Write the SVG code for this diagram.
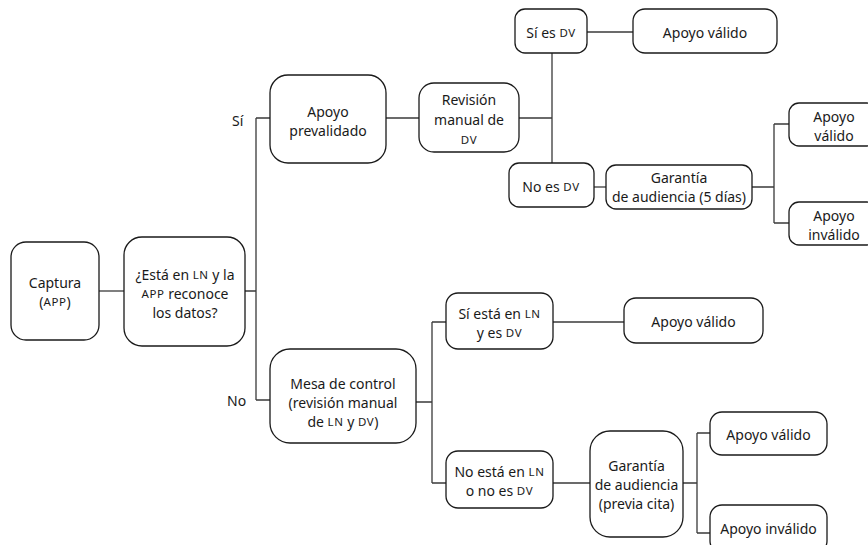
<svg xmlns="http://www.w3.org/2000/svg" width="868" height="545" viewBox="0 0 868 545">
<style>
.box{fill:#fff;stroke:#1a1a1a;stroke-width:1.3}
.ln{fill:none;stroke:#3a3a3a;stroke-width:1.3}
text{font-family:"Noto Sans","Open Sans","Liberation Sans",sans-serif;font-size:14px;fill:#1a1a1a;text-anchor:middle;dominant-baseline:central}
.sc{font-size:11.5px;letter-spacing:0.6px}
.lbl{text-anchor:start}
</style>
<rect width="868" height="545" fill="#fff"/>
<g id="connectors">
<path class="ln" d="M99,291 H124"/>
<path class="ln" d="M245,291 H256 M256,118 V400 M256,118 H270 M256,400 H270"/>
<path class="ln" d="M386,118 H419"/>
<path class="ln" d="M519,118 H552 M552,53 V163"/>
<path class="ln" d="M587,32 H633"/>
<path class="ln" d="M594,187 H606"/>
<path class="ln" d="M752,187 H774 M774,124 V223 M774,124 H789 M774,223 H789"/>
<path class="ln" d="M416,402 H432 M432,322 V483 M432,322 H446 M432,483 H446"/>
<path class="ln" d="M553,322 H624"/>
<path class="ln" d="M553,483 H590"/>
<path class="ln" d="M683,483 H697 M697,433 V533 M697,433 H710 M697,533 H710"/>
</g>
<g id="label-si"><text class="lbl" x="232" y="120">Sí</text></g>
<g id="label-no"><text class="lbl" x="227" y="400">No</text></g>
<g id="captura">
<rect class="box" x="11" y="242" width="88" height="98" rx="15"/>
<text x="55" y="282">Captura</text>
<text x="55" y="301">(<tspan class="sc">APP</tspan>)</text>
</g>
<g id="esta-en-ln">
<rect class="box" x="124" y="237" width="121" height="109" rx="18"/>
<text x="185" y="274">¿Está en <tspan class="sc">LN</tspan> y la</text>
<text x="185" y="293"><tspan class="sc">APP</tspan> reconoce</text>
<text x="185" y="312">los datos?</text>
</g>
<g id="apoyo-prevalidado">
<rect class="box" x="270" y="75" width="116" height="88" rx="18"/>
<text x="328" y="111">Apoyo</text>
<text x="328" y="130">prevalidado</text>
</g>
<g id="revision-manual">
<rect class="box" x="419" y="83" width="100" height="69" rx="15"/>
<text x="469" y="99">Revisión</text>
<text x="469" y="119">manual de</text>
<text x="469" y="139"><tspan class="sc">DV</tspan></text>
</g>
<g id="si-es-dv">
<rect class="box" x="515" y="9" width="72" height="44" rx="10"/>
<text x="551" y="32">Sí es <tspan class="sc">DV</tspan></text>
</g>
<g id="apoyo-valido-1">
<rect class="box" x="633" y="9" width="144" height="44" rx="12"/>
<text x="705" y="32">Apoyo válido</text>
</g>
<g id="no-es-dv">
<rect class="box" x="509" y="163" width="85" height="44" rx="10"/>
<text x="551" y="186">No es <tspan class="sc">DV</tspan></text>
</g>
<g id="garantia-5-dias">
<rect class="box" x="606" y="165" width="146" height="44" rx="10"/>
<text x="679" y="177">Garantía</text>
<text x="679" y="196">de audiencia (5 días)</text>
</g>
<g id="apoyo-valido-2">
<rect class="box" x="789" y="103" width="88" height="43" rx="10"/>
<text x="834" y="116">Apoyo</text>
<text x="834" y="135">válido</text>
</g>
<g id="apoyo-invalido-1">
<rect class="box" x="789" y="202" width="88" height="43" rx="10"/>
<text x="834" y="215">Apoyo</text>
<text x="834" y="234">inválido</text>
</g>
<g id="mesa-de-control">
<rect class="box" x="270" y="349" width="146" height="94" rx="20"/>
<text x="343" y="383">Mesa de control</text>
<text x="343" y="402">(revisión manual</text>
<text x="343" y="421">de <tspan class="sc">LN</tspan> y <tspan class="sc">DV</tspan>)</text>
</g>
<g id="si-esta-en-ln">
<rect class="box" x="446" y="293" width="107" height="56" rx="12"/>
<text x="499.5" y="313">Sí está en <tspan class="sc">LN</tspan></text>
<text x="499.5" y="332">y es <tspan class="sc">DV</tspan></text>
</g>
<g id="apoyo-valido-3">
<rect class="box" x="624" y="298" width="139" height="45" rx="12"/>
<text x="693.5" y="321">Apoyo válido</text>
</g>
<g id="no-esta-en-ln">
<rect class="box" x="446" y="451" width="107" height="57" rx="12"/>
<text x="499.5" y="471">No está en <tspan class="sc">LN</tspan></text>
<text x="499.5" y="490">o no es <tspan class="sc">DV</tspan></text>
</g>
<g id="garantia-previa-cita">
<rect class="box" x="590" y="431" width="93" height="106" rx="20"/>
<text x="636.5" y="465">Garantía</text>
<text x="636.5" y="484">de audiencia</text>
<text x="636.5" y="503">(previa cita)</text>
</g>
<g id="apoyo-valido-4">
<rect class="box" x="710" y="412" width="117" height="43" rx="12"/>
<text x="768.5" y="434">Apoyo válido</text>
</g>
<g id="apoyo-invalido-2">
<rect class="box" x="710" y="505" width="117" height="48" rx="12"/>
<text x="768.5" y="528">Apoyo inválido</text>
</g>
</svg>
